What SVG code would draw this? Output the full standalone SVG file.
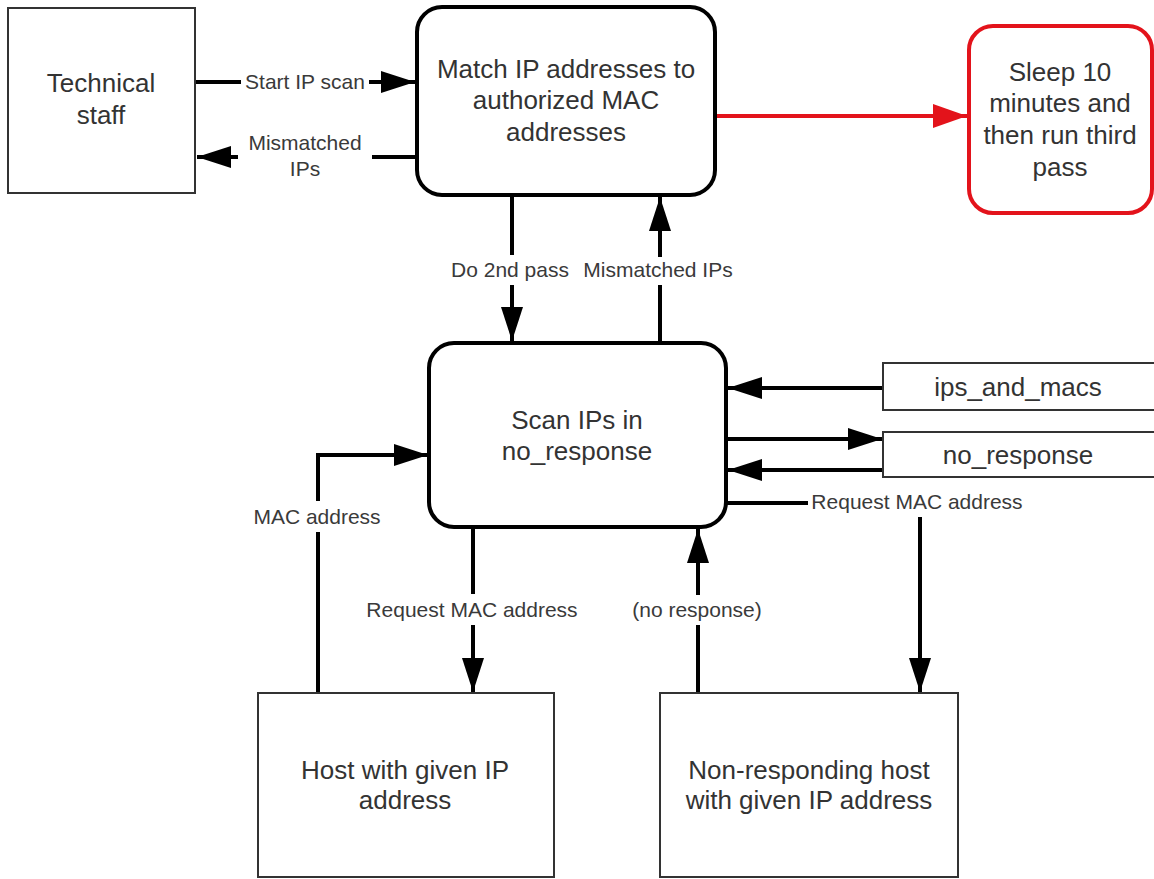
<svg xmlns="http://www.w3.org/2000/svg" width="1154" height="879" viewBox="0 0 1154 879">
  <style>
    .box { fill: #fff; stroke: #333; stroke-width: 2; }
    .proc { fill: #fff; stroke: #000; stroke-width: 4; }
    .proc-red { fill: #fff; stroke: #e3131b; stroke-width: 4; }
    .t { font-family: "Liberation Sans", Arial, sans-serif; font-size: 26px; fill: #333; text-anchor: middle; }
    .lbl { font-family: "Liberation Sans", Arial, sans-serif; font-size: 21px; fill: #3a3a3a; text-anchor: middle; }
    .wire { fill: none; stroke: #000; stroke-width: 4; }
    .wire-red { fill: none; stroke: #e3131b; stroke-width: 4; }
    .bg { fill: #fff; }
  </style>
  <defs>
    <marker id="arrow" markerUnits="userSpaceOnUse" markerWidth="34" markerHeight="22" refX="34" refY="11" orient="auto">
      <path d="M0,0 L34,11 L0,22 Z" fill="#000"/>
    </marker>
    <marker id="arrow-red" markerUnits="userSpaceOnUse" markerWidth="34" markerHeight="24" refX="34" refY="12" orient="auto">
      <path d="M0,0 L34,12 L0,24 Z" fill="#e3131b"/>
    </marker>
  </defs>
  <rect width="1154" height="879" fill="#fff"/>

  <!-- connectors -->
  <g id="connectors">
    <path class="wire" d="M195,82 H415" marker-end="url(#arrow)"/>
    <path class="wire" d="M417,157 H197" marker-end="url(#arrow)"/>
    <path class="wire-red" d="M715,116 H967" marker-end="url(#arrow-red)"/>
    <path class="wire" d="M512,195 V341" marker-end="url(#arrow)"/>
    <path class="wire" d="M660,343 V197" marker-end="url(#arrow)"/>
    <path class="wire" d="M883,388 H728" marker-end="url(#arrow)"/>
    <path class="wire" d="M727,439 H882" marker-end="url(#arrow)"/>
    <path class="wire" d="M883,470 H728" marker-end="url(#arrow)"/>
    <path class="wire" d="M727,503 H920 V692" marker-end="url(#arrow)"/>
    <path class="wire" d="M473,528 V692" marker-end="url(#arrow)"/>
    <path class="wire" d="M698,693 V529" marker-end="url(#arrow)"/>
    <path class="wire" d="M318,693 V455 H428" marker-end="url(#arrow)"/>

    <!-- label backgrounds break the lines -->
    <rect class="bg" x="241" y="70" width="128" height="24"/>
    <text class="lbl" x="305" y="89">Start IP scan</text>
    <rect class="bg" x="238" y="128" width="134" height="54"/>
    <text class="lbl" x="305" y="150">Mismatched</text>
    <text class="lbl" x="305" y="176">IPs</text>
    <rect class="bg" x="448" y="255" width="124" height="30"/>
    <text class="lbl" x="510" y="277">Do 2nd pass</text>
    <rect class="bg" x="578" y="257" width="160" height="28"/>
    <text class="lbl" x="658" y="277">Mismatched IPs</text>
    <rect class="bg" x="808" y="489" width="222" height="28"/>
    <text class="lbl" x="917" y="509">Request MAC address</text>
    <rect class="bg" x="254" y="501" width="128" height="31"/>
    <text class="lbl" x="317" y="524">MAC address</text>
    <rect class="bg" x="360" y="594" width="226" height="31"/>
    <text class="lbl" x="472" y="617">Request MAC address</text>
    <rect class="bg" x="626" y="595" width="144" height="30"/>
    <text class="lbl" x="697" y="617">(no response)</text>
  </g>

  <g id="technical-staff">
    <rect class="box" x="8" y="8" width="187" height="185"/>
    <text class="t" x="101" y="92">Technical</text>
    <text class="t" x="101" y="124">staff</text>
  </g>

  <g id="match-ips">
    <rect class="proc" x="417" y="7" width="298" height="188" rx="25" ry="25"/>
    <text class="t" x="566" y="78">Match IP addresses to</text>
    <text class="t" x="566" y="109">authorized MAC</text>
    <text class="t" x="566" y="141">addresses</text>
  </g>

  <g id="sleep">
    <rect class="proc-red" x="969" y="26" width="183" height="187" rx="24" ry="24"/>
    <text class="t" x="1060" y="81">Sleep 10</text>
    <text class="t" x="1060" y="112">minutes and</text>
    <text class="t" x="1060" y="144">then run third</text>
    <text class="t" x="1060" y="176">pass</text>
  </g>

  <g id="scan-ips">
    <rect class="proc" x="429" y="343" width="297" height="184" rx="25" ry="25"/>
    <text class="t" x="577" y="429">Scan IPs in</text>
    <text class="t" x="577" y="460">no_response</text>
  </g>

  <g id="ips-and-macs">
    <rect class="box" x="883" y="363" width="272" height="47"/>
    <text class="t" x="1018" y="396">ips_and_macs</text>
  </g>

  <g id="no-response">
    <rect class="box" x="883" y="432" width="272" height="45"/>
    <text class="t" x="1018" y="464">no_response</text>
  </g>

  <g id="host">
    <rect class="box" x="258" y="693" width="296" height="184"/>
    <text class="t" x="405" y="779">Host with given IP</text>
    <text class="t" x="405" y="809">address</text>
  </g>

  <g id="non-responding-host">
    <rect class="box" x="660" y="693" width="298" height="184"/>
    <text class="t" x="809" y="779">Non-responding host</text>
    <text class="t" x="809" y="809">with given IP address</text>
  </g>
</svg>
